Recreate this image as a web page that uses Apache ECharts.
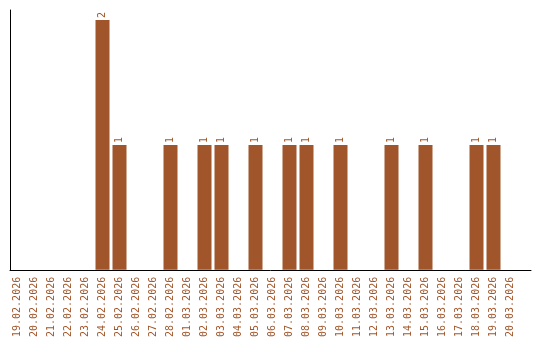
<!DOCTYPE html>
<html>
<head>
<meta charset="utf-8">
<script src="https://cdn.jsdelivr.net/npm/echarts@6/dist/echarts.min.js"></script>
<style>html,body{margin:0;padding:0;background:#fff}#c{width:540px;height:340px}</style>
</head>
<body>
<div id="c"></div>
<script>
const categories = ["19.02.2026","20.02.2026","21.02.2026","22.02.2026","23.02.2026","24.02.2026","25.02.2026","26.02.2026","27.02.2026","28.02.2026","01.03.2026","02.03.2026","03.03.2026","04.03.2026","05.03.2026","06.03.2026","07.03.2026","08.03.2026","09.03.2026","10.03.2026","11.03.2026","12.03.2026","13.03.2026","14.03.2026","15.03.2026","16.03.2026","17.03.2026","18.03.2026","19.03.2026","20.03.2026"];
const values = [0,0,0,0,0,2,1,0,0,1,0,1,1,0,1,0,1,1,0,1,0,0,1,0,1,0,0,1,1,0];

const color = '#A0562A';
const chart = echarts.init(document.getElementById('c'));
chart.setOption({
  animation: false,
  grid: [
    {left: 9, right: 21, top: 10, bottom: 70},
    {left: 10, right: 9, top: 10, bottom: 70}
  ],
  xAxis: [
    {type: 'category', gridIndex: 0, data: categories,
     axisLine: {show: false}, axisTick: {show: false},
     axisLabel: {interval: 0, rotate: 90, color: color, fontSize: 10, fontFamily: 'DejaVu Sans Mono', margin: 7}},
    {type: 'value', gridIndex: 1, min: 0, max: 1,
     axisLine: {show: true, lineStyle: {color: '#000', width: 1}},
     axisTick: {show: false}, axisLabel: {show: false}, splitLine: {show: false}}
  ],
  yAxis: [
    {type: 'value', gridIndex: 0, min: 0, max: 2.08,
     axisLine: {show: false}, axisTick: {show: false}, axisLabel: {show: false}, splitLine: {show: false}},
    {type: 'value', gridIndex: 1, min: 0, max: 1,
     axisLine: {show: true, lineStyle: {color: '#000', width: 1}},
     axisTick: {show: false}, axisLabel: {show: false}, splitLine: {show: false}}
  ],
  series: [{
    type: 'bar', xAxisIndex: 0, yAxisIndex: 0,
    data: values, barWidth: 14,
    itemStyle: {color: color},
    label: {show: true, position: 'top', rotate: 90, align: 'left', verticalAlign: 'middle',
            distance: 2, color: color, fontSize: 10, fontFamily: 'DejaVu Sans Mono',
            formatter: p => p.value ? String(p.value) : ''}
  }]
});
</script>
</body>
</html>
